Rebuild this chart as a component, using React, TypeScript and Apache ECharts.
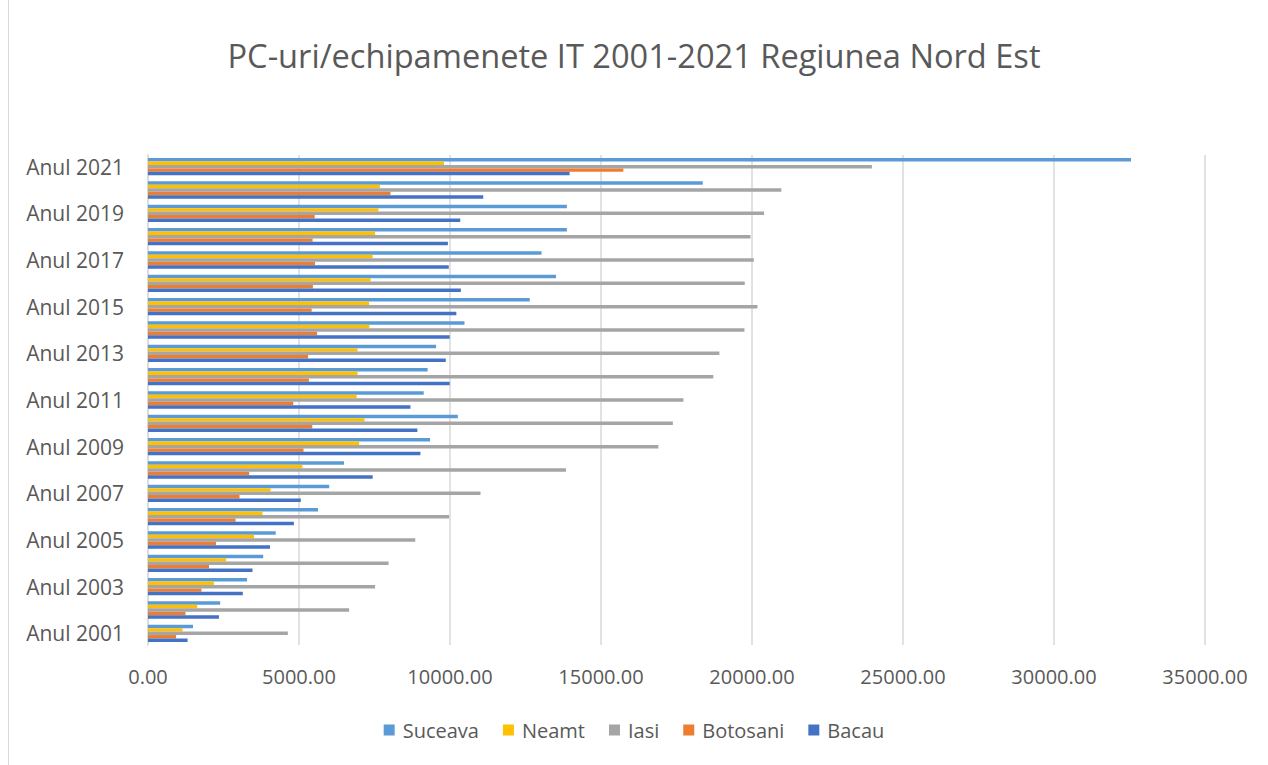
import React, { useEffect, useRef } from "react";
import * as echarts from "echarts";

const years = [
  "Anul 2001", "Anul 2002", "Anul 2003", "Anul 2004", "Anul 2005", "Anul 2006", "Anul 2007",
  "Anul 2008", "Anul 2009", "Anul 2010", "Anul 2011", "Anul 2012", "Anul 2013", "Anul 2014",
  "Anul 2015", "Anul 2016", "Anul 2017", "Anul 2018", "Anul 2019", "Anul 2020", "Anul 2021",
];

const suceava = [1490, 2390, 3280, 3815, 4230, 5630, 6000, 6490, 9340, 10260, 9130, 9260, 9540, 10480, 12640, 13510, 13030, 13870, 13870, 18370, 32550];
const neamt = [1145, 1630, 2180, 2590, 3510, 3790, 4060, 5110, 6990, 7170, 6910, 6940, 6940, 7330, 7320, 7370, 7440, 7520, 7630, 7680, 9800];
const iasi = [4630, 6660, 7520, 7965, 8850, 9970, 11010, 13840, 16900, 17380, 17730, 18720, 18920, 19750, 20180, 19760, 20060, 19950, 20400, 20970, 23970];
const botosani = [930, 1240, 1770, 2020, 2250, 2900, 3030, 3350, 5150, 5440, 4810, 5330, 5300, 5600, 5420, 5460, 5530, 5450, 5520, 8030, 15740];
const bacau = [1310, 2350, 3140, 3460, 4040, 4830, 5060, 7440, 9020, 8920, 8690, 9990, 9860, 9990, 10210, 10360, 9960, 9930, 10340, 11100, 13960];

const seriesNames = ["Suceava", "Neamt", "Iasi", "Botosani", "Bacau"];
const seriesData = [suceava, neamt, iasi, botosani, bacau];
const colors = ["#5B9BD5", "#FFC000", "#A5A5A5", "#ED7D31", "#4472C4"];

export default function App() {
  const ref = useRef<HTMLDivElement>(null);
  useEffect(() => {
    if (!ref.current) return;
    const chart = echarts.init(ref.current, null, { renderer: "svg" });
    const font = "Open Sans";
    chart.setOption({
      animation: false,
      backgroundColor: "#ffffff",
      textStyle: { fontFamily: font },
      title: {
        text: "PC-uri/echipamenete IT 2001-2021 Regiunea Nord Est",
        left: "center",
        top: 34,
        textStyle: { fontFamily: font, fontSize: 32.6, fontWeight: "normal", color: "#595959" },
      },
      graphic: [
        { type: "line", shape: { x1: 8.5, y1: 0, x2: 8.5, y2: 765 }, style: { stroke: "#D9D9D9", lineWidth: 1 } },
      ],
      legend: {
        data: seriesNames,
        top: 715,
        left: "center",
        icon: "rect",
        itemWidth: 11,
        itemHeight: 11,
        itemGap: 24,
        textStyle: { fontFamily: font, fontSize: 20, color: "#595959", padding: [0, 0, 0, 3] },
      },
      grid: { left: 148, right: 63, top: 155, bottom: 120, containLabel: false },
      xAxis: {
        type: "value",
        min: 0,
        max: 35000,
        interval: 5000,
        axisLine: { show: false },
        axisTick: { show: false },
        splitLine: { lineStyle: { color: "#D9D9D9", width: 1.5 } },
        axisLabel: {
          formatter: (v: number) => v.toFixed(2),
          fontFamily: font,
          fontSize: 20,
          color: "#595959",
          margin: 21,
        },
      },
      yAxis: {
        type: "category",
        data: years,
        axisLine: { show: true, lineStyle: { color: "#D9D9D9", width: 1.5 } },
        axisTick: { show: false },
        axisLabel: {
          interval: 1,
          fontFamily: font,
          fontSize: 21,
          color: "#595959",
          margin: 24,
        },
      },
      series: seriesNames.map((name, i) => ({
        name,
        type: "bar",
        data: seriesData[i],
        itemStyle: { color: colors[i] },
        barGap: "0%",
        barCategoryGap: "26%",
      })),
    });
    return () => chart.dispose();
  }, []);
  return <div ref={ref} style={{ position: "fixed", left: 0, top: 0, width: 1268, height: 765 }} />;
}
